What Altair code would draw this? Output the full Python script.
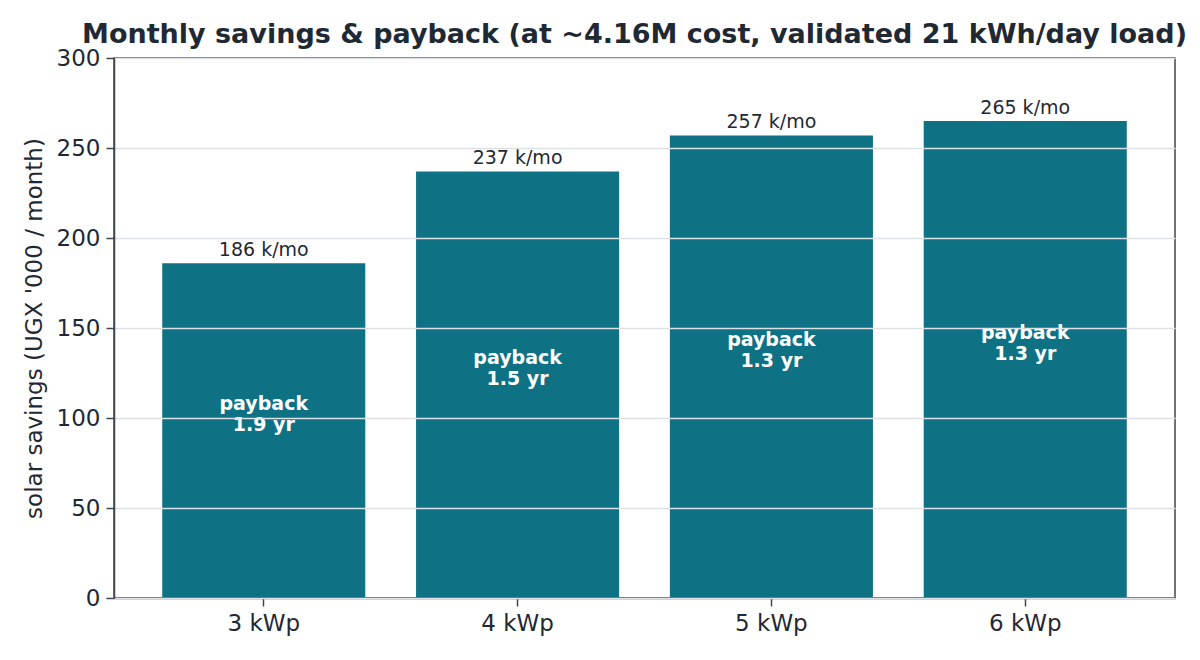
import altair as alt
import pandas as pd

# system sizes and their modelled monthly savings (UGX '000)
sizes = ["3 kWp", "4 kWp", "5 kWp", "6 kWp"]
savings = [186, 237, 257, 265]
payback_years = [1.9, 1.5, 1.3, 1.3]

df = pd.DataFrame({"size": sizes, "savings": savings, "payback": payback_years})
df["top_label"] = [f"{v} k/mo" for v in savings]
df["inner_label"] = [f"payback\n{p:.1f} yr" for p in payback_years]
df["half"] = df["savings"] / 2

TEXT = "#1f2933"
AXIS = "#3e4650"
BAR = "#0e7184"
FONT = "DejaVu Sans"

x = alt.X(
    "size:N",
    sort=sizes,
    title=None,
    scale=alt.Scale(paddingInner=0.2, paddingOuter=0.19),
    axis=alt.Axis(labelAngle=0, labelFontSize=23, labelColor=TEXT, labelPadding=6,
                  tickSize=8, tickColor=AXIS, tickWidth=1.5, domainColor=AXIS,
                  domainWidth=1.5, grid=False),
)

base = alt.Chart(df).encode(x=x)

bars = base.mark_bar(color=BAR).encode(
    y=alt.Y(
        "savings:Q",
        title="solar savings (UGX '000 / month)",
        scale=alt.Scale(domain=[0, 300], nice=False),
        axis=alt.Axis(values=[0, 50, 100, 150, 200, 250, 300], labelFontSize=23,
                      labelColor=TEXT, labelPadding=6, tickSize=8, tickColor=AXIS,
                      tickWidth=1.5, domainColor=AXIS, domainWidth=1.5,
                      titleFontSize=23, titleColor=TEXT, titleFontWeight="normal",
                      titlePadding=10, grid=True, gridColor="#dde1e5",
                      gridWidth=1.3, zindex=1),
    )
)

top = base.mark_text(fontSize=19, color=TEXT, baseline="alphabetic", dy=-7, font=FONT).encode(
    y=alt.Y("savings:Q"), text="top_label:N"
)

inner = base.mark_text(fontSize=19, fontWeight="bold", color="white", baseline="middle",
                       lineBreak="\n", lineHeight=21, dy=-27, font=FONT).encode(
    y=alt.Y("half:Q"), text="inner_label:N"
)

chart = (bars + top + inner).properties(
    width=1061,
    height=540,
    autosize=alt.AutoSizeParams(type="none"),
    padding={"left": 106, "top": 50, "right": 16, "bottom": 50},
    title=alt.Title(
        "Monthly savings & payback (at ~4.16M cost, validated 21 kWh/day load)",
        fontSize=27, fontWeight="bold", color=TEXT, font=FONT, anchor="middle",
        offset=2, dx=-10, dy=4,
    ),
).configure(font=FONT).configure_view(stroke=AXIS, strokeWidth=1.5)

chart.save("out.html", embed_options={"renderer": "svg", "actions": False})
